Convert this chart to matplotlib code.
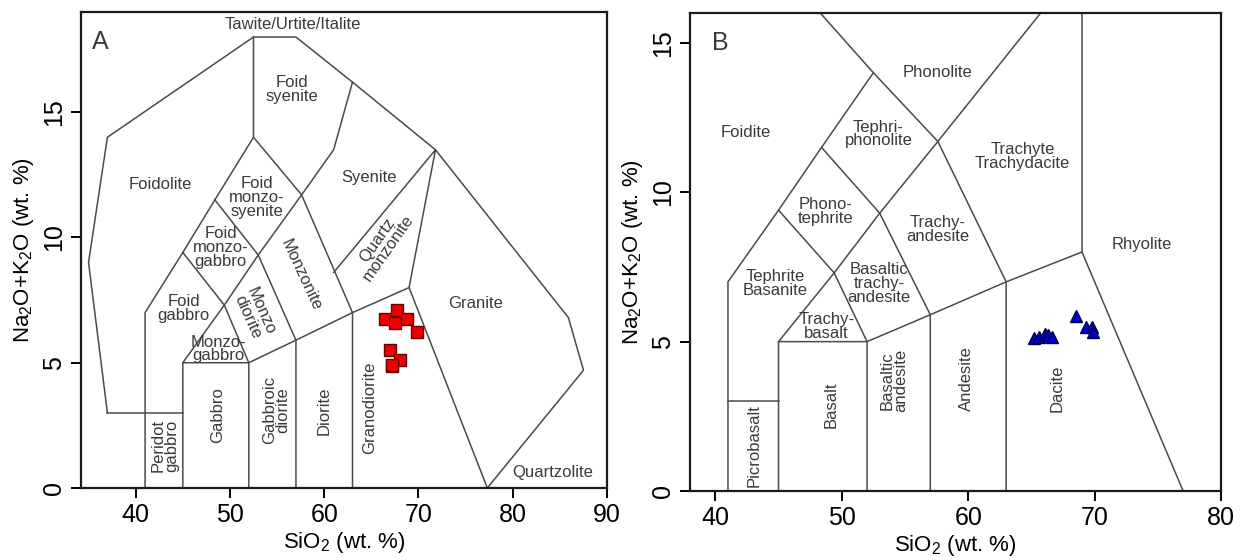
import numpy as np
import matplotlib
matplotlib.use('Agg')
import matplotlib.pyplot as plt

plt.rcParams['font.family'] = ['Liberation Sans', 'DejaVu Sans']
plt.rcParams['mathtext.fontset'] = 'custom'
plt.rcParams['mathtext.rm'] = 'Liberation Sans'

# Panel A: plutonic TAS (Middlemost 1994) field boundaries
a_lines = [
    [(37, 3), (35, 9), (37, 14), (52.5, 18), (57, 18), (63, 16.2), (71.8, 13.5),
     (85.9, 6.8), (87.5, 4.7), (77.3, 0)],
    [(37, 3), (45, 3)],
    [(41, 0), (41, 7), (45, 9.4), (48.4, 11.5), (52.5, 14), (52.5, 18)],
    [(45, 0), (45, 5), (49.4, 7.3), (53, 9.3), (57.6, 11.7), (61, 13.5), (63, 16.2)],
    [(45, 9.4), (49.4, 7.3), (52, 5), (52, 0)],
    [(48.4, 11.5), (53, 9.3), (57, 5.9), (57, 0)],
    [(52.5, 14), (57.6, 11.7), (63, 7), (63, 0)],
    [(45, 5), (52, 5), (57, 5.9), (63, 7), (69, 8), (77.3, 0)],
    [(61, 8.6), (71.8, 13.5), (69, 8)],
]

# (text, x, y, rotation)
a_labels = [
    ('Tawite/Urtite/Italite', 56.7, 18.5, 0),
    ('Foid\nsyenite', 56.6, 15.9, 0),
    ('Foidolite', 42.6, 12.1, 0),
    ('Foid\nmonzo-\nsyenite', 52.85, 11.6, 0),
    ('Syenite', 64.8, 12.4, 0),
    ('Foid\nmonzo-\ngabbro', 49.0, 9.6, 0),
    ('Monzonite', 57.5, 8.5, -65),
    ('Quartz\nmonzonite', 66.2, 9.75, 55),
    ('Foid\ngabbro', 45.1, 7.15, 0),
    ('Monzo\ndiorite', 52.6, 6.95, -66),
    ('Monzo-\ngabbro', 48.8, 5.55, 0),
    ('Granite', 76.1, 7.35, 0),
    ('Gabbro', 48.7, 2.9, 90),
    ('Peridot\ngabbro', 43.1, 1.7, 90),
    ('Gabbroic\ndiorite', 54.9, 3.1, 90),
    ('Diorite', 60.0, 3.1, 90),
    ('Granodiorite', 64.85, 3.2, 90),
    ('Quartzolite', 84.2, 0.63, 0),
]

a_sio2 = [67.7, 66.4, 67.5, 68.8, 69.8, 66.95, 68.0, 67.15, 67.2]
a_alk = [7.12, 6.76, 6.6, 6.76, 6.23, 5.5, 5.1, 4.85, 4.92]

# Panel B: volcanic TAS (Le Bas et al. 1986)
b_lines = [
    [(41, 0), (41, 7), (45, 9.4), (48.4, 11.5), (52.5, 14), (48.3, 16)],
    [(41, 3), (45, 3)],
    [(45, 0), (45, 5), (49.4, 7.3), (53, 9.3), (57.6, 11.7), (69, 17.73)],
    [(45, 9.4), (49.4, 7.3), (52, 5), (52, 0)],
    [(48.4, 11.5), (53, 9.3), (57, 5.9), (57, 0)],
    [(52.5, 14), (57.6, 11.7), (63, 7), (63, 0)],
    [(45, 5), (52, 5), (57, 5.9), (63, 7), (69, 8), (77, 0)],
    [(69, 8), (69, 17.73)],
]

b_labels = [
    ('Phonolite', 57.6, 14.0, 0),
    ('Foidite', 42.4, 12.0, 0),
    ('Tephri-\nphonolite', 52.9, 11.95, 0),
    ('Trachyte\nTrachydacite', 64.3, 11.2, 0),
    ('Phono-\ntephrite', 48.7, 9.35, 0),
    ('Trachy-\nandesite', 57.6, 8.75, 0),
    ('Rhyolite', 73.75, 8.25, 0),
    ('Tephrite\nBasanite', 44.75, 6.95, 0),
    ('Basaltic\ntrachy-\nandesite', 52.95, 6.95, 0),
    ('Trachy-\nbasalt', 48.8, 5.5, 0),
    ('Picrobasalt', 43.1, 1.52, 90),
    ('Basalt', 49.15, 2.9, 90),
    ('Basaltic\nandesite', 54.1, 3.7, 90),
    ('Andesite', 59.9, 3.75, 90),
    ('Dacite', 67.0, 3.45, 90),
]

b_sio2 = [65.17, 65.6, 66.1, 66.3, 66.65, 68.5, 69.3, 69.8, 69.9]
b_alk = [5.12, 5.17, 5.26, 5.21, 5.17, 5.87, 5.48, 5.48, 5.31]

line_col = '#4a4a4a'
text_col = '#3a3a3a'
ylab = r'Na$\mathregular{_2}$O+K$\mathregular{_2}$O (wt. %)'
xlab = r'SiO$\mathregular{_2}$ (wt. %)'

fig = plt.figure(figsize=(12.46, 5.6), dpi=100)
axA = fig.add_axes([0.065, 0.1286, 0.4222, 0.85])
axB = fig.add_axes([0.5538, 0.1232, 0.4262, 0.8536])


def draw_panel(ax, lines, labels, xs, ys, marker, fc, ec, ms):
    for seg in lines:
        px, py = zip(*seg)
        ax.plot(px, py, '-', color=line_col, lw=1.1)
    for txt, x, y, rot in labels:
        ax.text(x, y, txt, ha='center', va='center', rotation=rot,
                fontsize=12, color=text_col, linespacing=0.9,
                rotation_mode='anchor' if rot not in (0, 90) else 'default')
    ax.plot(xs, ys, marker, ls='none', ms=ms, mfc=fc, mec=ec, mew=1.0)
    for s in ax.spines.values():
        s.set_linewidth(1.6)
        s.set_color('#1a1a1a')
    ax.tick_params(direction='out', length=7, width=1.4, labelsize=18, pad=4)
    ax.tick_params(axis='y', labelrotation=90)
    for lab in ax.get_yticklabels():
        lab.set_va('center')
    ax.set_xlabel(xlab, fontsize=16, labelpad=2)
    ax.set_ylabel(ylab, fontsize=16, labelpad=4)


axA.set_xlim(34.2, 90)
axA.set_ylim(0, 19)
axA.set_xticks([40, 50, 60, 70, 80, 90])
axA.set_yticks([0, 5, 10, 15])
draw_panel(axA, a_lines, a_labels, a_sio2, a_alk, 's', '#ee0000', '#6a0000', 8)
axA.text(35.4, 17.8, 'A', ha='left', va='center', fontsize=18, color=text_col)

axB.set_xlim(38, 80)
axB.set_ylim(0, 16)
axB.set_xticks([40, 50, 60, 70, 80])
axB.set_yticks([0, 5, 10, 15])
draw_panel(axB, b_lines, b_labels, b_sio2, b_alk, '^', '#0000cc', '#00004a', 9)
axB.text(39.7, 15.0, 'B', ha='left', va='center', fontsize=18, color=text_col)

fig.savefig('out.png', dpi=100)
